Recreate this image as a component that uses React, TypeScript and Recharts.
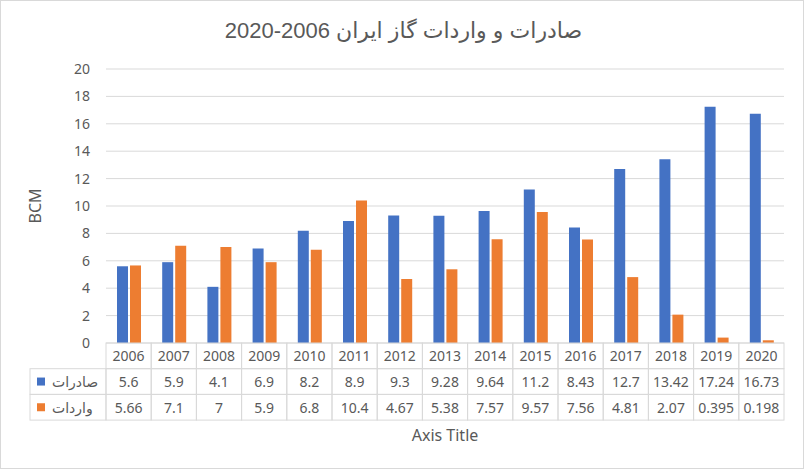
import React from 'react';
import { BarChart, Bar, XAxis, YAxis, CartesianGrid } from 'recharts';

const years = ['2006', '2007', '2008', '2009', '2010', '2011', '2012', '2013', '2014', '2015', '2016', '2017', '2018', '2019', '2020'];
const exportsBcm = [5.6, 5.9, 4.1, 6.9, 8.2, 8.9, 9.3, 9.28, 9.64, 11.2, 8.43, 12.7, 13.42, 17.24, 16.73];
const importsBcm = [5.66, 7.1, 7, 5.9, 6.8, 10.4, 4.67, 5.38, 7.57, 9.57, 7.56, 4.81, 2.07, 0.395, 0.198];
const yTicks = [0, 2, 4, 6, 8, 10, 12, 14, 16, 18, 20];

const exportsName = 'صادرات';
const importsName = 'واردات';
// written number-first so the LTR line shows the years on the left, as in the original
const titleText = '2020-2006 صادرات و واردات گاز ایران';
const yTitle = 'BCM';
const xTitle = 'Axis Title';

const BLUE = '#4472C4';
const ORANGE = '#ED7D31';
const TEXT = '#595959';
const GRID = '#d9d9d9';
const FONT = "'Noto Sans', 'DejaVu Sans', sans-serif";

const chartData = years.map((year, i) => ({
  year,
  exports: exportsBcm[i],
  imports: importsBcm[i],
}));

// table geometry under the plot
const CELL_W = 678 / 15;
const ROW_H = 25.7;
const LEGEND_LEFT = 30;

function TableTick(props: any) {
  const { x, y, payload } = props;
  const i = payload.index;
  const left = x - CELL_W / 2;
  const rows = [payload.value, exportsBcm[i], importsBcm[i]];

  return (
    <g>
      {rows.map((val, r) => (
        <g key={r}>
          <rect x={left} y={y + r * ROW_H} width={CELL_W} height={ROW_H} fill="none" stroke={GRID} />
          <text
            x={x}
            y={y + r * ROW_H + ROW_H / 2}
            textAnchor="middle"
            dominantBaseline="central"
            fill={TEXT}
            fontSize={14}
            fontFamily={FONT}
          >
            {String(val)}
          </text>
        </g>
      ))}
      {i === 0 && (
        <g>
          {[
            { name: exportsName, color: BLUE },
            { name: importsName, color: ORANGE },
          ].map((s, r) => {
            const top = y + (r + 1) * ROW_H;
            return (
              <g key={s.name}>
                <rect x={LEGEND_LEFT} y={top} width={left - LEGEND_LEFT} height={ROW_H} fill="none" stroke={GRID} />
                <rect x={LEGEND_LEFT + 7} y={top + ROW_H / 2 - 4} width={8} height={8} fill={s.color} />
                <text
                  x={LEGEND_LEFT + 22}
                  y={top + ROW_H / 2}
                  dominantBaseline="central"
                  fill={TEXT}
                  fontSize={14}
                  fontFamily={FONT}
                >
                  {s.name}
                </text>
              </g>
            );
          })}
        </g>
      )}
    </g>
  );
}

const YTitle = (props: any) => {
  const { viewBox } = props;
  const cx = viewBox.x + 19;
  const cy = viewBox.y + viewBox.height / 2;
  return (
    <text
      x={cx}
      y={cy}
      transform={`rotate(-90, ${cx}, ${cy})`}
      textAnchor="middle"
      dominantBaseline="central"
      fill={TEXT}
      fontSize={16}
      fontFamily={FONT}
    >
      {yTitle}
    </text>
  );
};

const XTitle = (props: any) => {
  const { viewBox } = props;
  return (
    <text
      x={viewBox.x + viewBox.width / 2}
      y={viewBox.y + 92}
      textAnchor="middle"
      dominantBaseline="central"
      fill={TEXT}
      fontSize={16}
      fontFamily={FONT}
    >
      {xTitle}
    </text>
  );
};

export default function App() {
  return (
    <div style={{ position: 'absolute', left: 0, top: 0, width: 807, height: 471, background: '#fff' }}>
      <div
        style={{
          position: 'absolute',
          left: 0,
          top: 0,
          width: 804,
          height: 469,
          border: `1px solid ${GRID}`,
          boxSizing: 'border-box',
        }}
      />
      <BarChart
        width={807}
        height={471}
        data={chartData}
        margin={{ top: 69, right: 23, left: 16, bottom: 0 }}
        barGap={2}
      >
        <CartesianGrid vertical={false} stroke={GRID} />
        <XAxis
          dataKey="year"
          interval={0}
          height={128}
          axisLine={false}
          tickLine={false}
          tickSize={0}
          tickMargin={0}
          tick={<TableTick />}
          label={<XTitle />}
        />
        <YAxis
          width={90}
          domain={[0, 20]}
          ticks={yTicks}
          axisLine={false}
          tickLine={false}
          tickSize={0}
          tickMargin={16}
          tick={{ fill: TEXT, fontSize: 14, fontFamily: FONT }}
          label={<YTitle />}
        />
        <Bar dataKey="exports" name={exportsName} fill={BLUE} barSize={11} isAnimationActive={false} />
        <Bar dataKey="imports" name={importsName} fill={ORANGE} barSize={11} isAnimationActive={false} />
      </BarChart>
      <div
        style={{
          position: 'absolute',
          left: 0,
          top: 14,
          width: 807,
          textAlign: 'center',
          fontSize: 22,
          lineHeight: '34px',
          color: TEXT,
          fontFamily: "'Liberation Sans', 'DejaVu Sans', sans-serif",
        }}
      >
        {titleText}
      </div>
    </div>
  );
}
